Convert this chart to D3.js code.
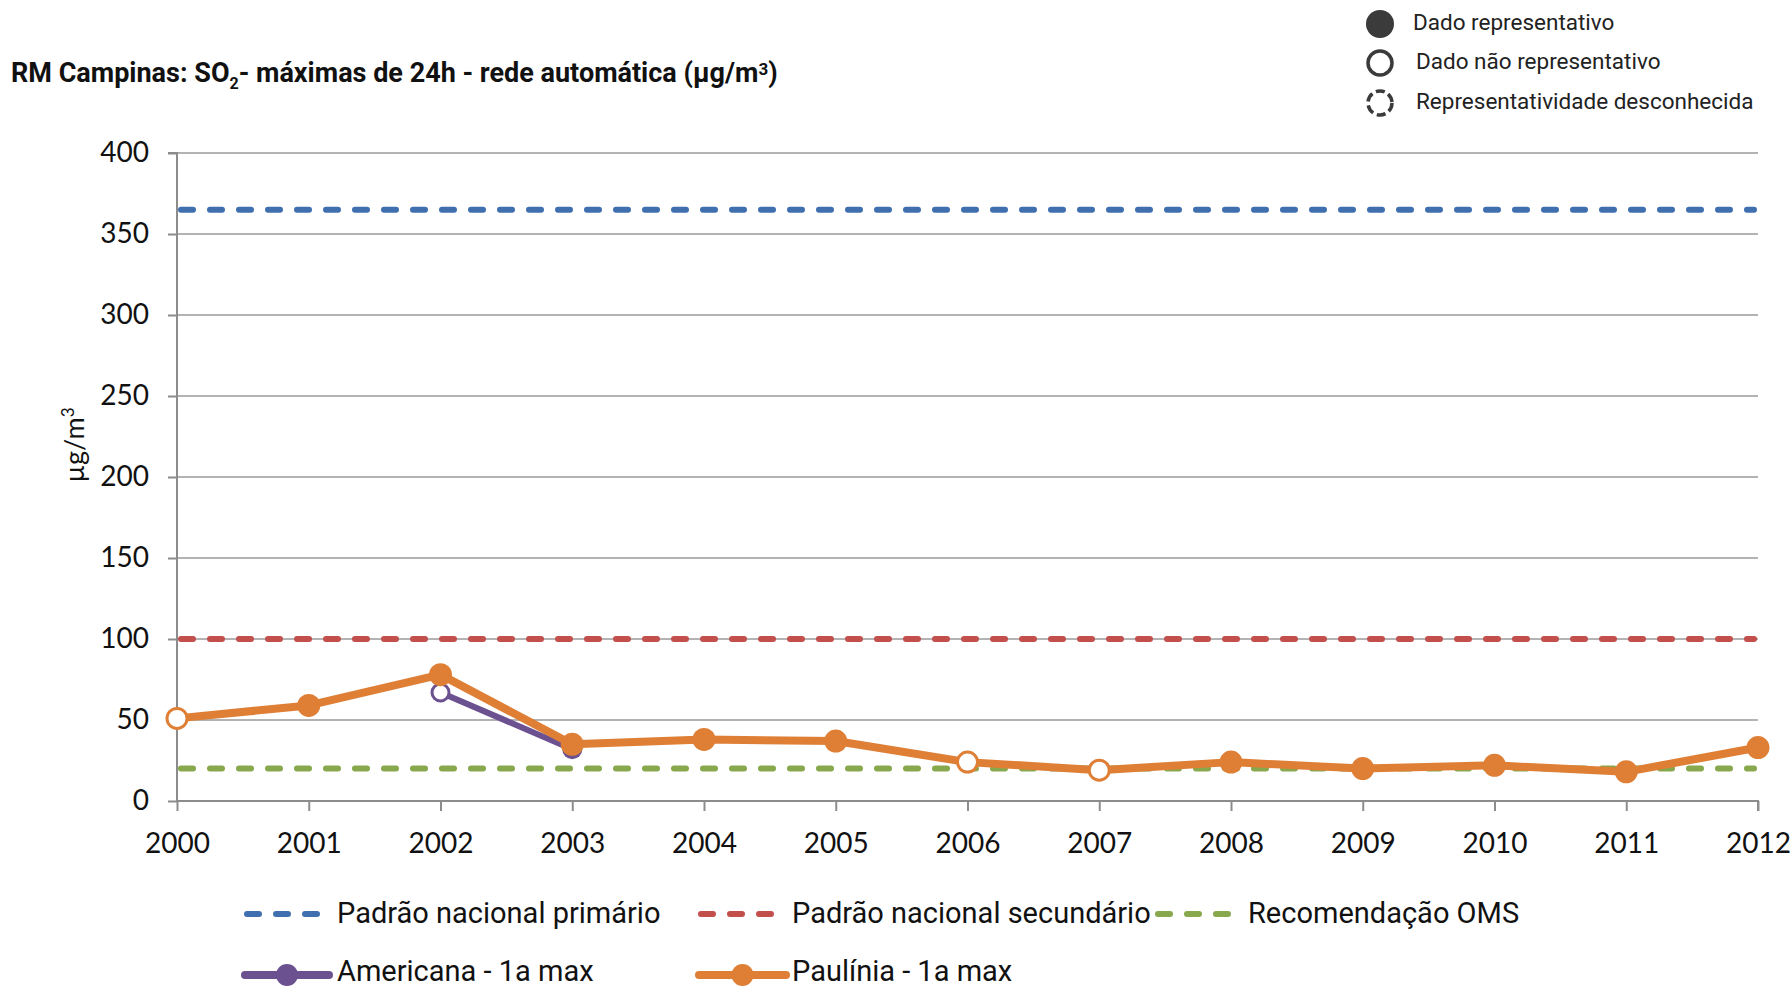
<!DOCTYPE html>
<html><head><meta charset="utf-8">
<script src="https://cdn.jsdelivr.net/npm/d3@7"></script>
<style>
html,body{margin:0;padding:0;background:#fff;}
svg{display:block;font-family:Lato,"Open Sans",sans-serif;}
</style></head>
<body>
<svg id="c" width="1791" height="989"></svg>
<script>
const years = [2000,2001,2002,2003,2004,2005,2006,2007,2008,2009,2010,2011,2012];
const paulinia = [51,59,78,35,38,37,24,19,24,20,22,18,33];
const pauliniaRep = [false,true,true,true,true,true,false,false,true,true,true,true,true];
const americana = [null,null,67,32,null,null,null,null,null,null,null,null,null];
const americanaRep = [null,null,false,true,null,null,null,null,null,null,null,null,null];
const refNames = ["Padrão nacional primário","Padrão nacional secundário","Recomendação OMS"];
const refValues = [365,100,20];
const yTicks = [0,50,100,150,200,250,300,350,400];

const colors = {blue:"#3F6FAF",red:"#C24F4C",green:"#87A84C",purple:"#6B5190",orange:"#DE7F35"};
const refColors = [colors.blue,colors.red,colors.green];

const svg = d3.select("#c");
const L=177, R=1758, T=153, B=801;
const x = d3.scaleLinear().domain([2000,2012]).range([L,R]);
const y = d3.scaleLinear().domain([0,400]).range([B,T]);

// gridlines
svg.append("g").selectAll("line").data(yTicks.filter(d=>d>0)).join("line")
  .attr("x1",L).attr("x2",R).attr("y1",d=>y(d)).attr("y2",d=>y(d))
  .attr("stroke","#9a9a9a").attr("stroke-width",1.6);

// y axis
const ya = svg.append("g").attr("transform",`translate(${L},0)`)
  .call(d3.axisLeft(y).tickValues(yTicks).tickSize(9).tickPadding(19));
ya.select(".domain").attr("stroke","#8c8c8c").attr("stroke-width",2).attr("d",`M-9,${T}H0V${B}`);
ya.selectAll(".tick line").attr("stroke","#8c8c8c").attr("stroke-width",2);
ya.selectAll("text").attr("font-size",28).attr("fill","#111").attr("font-family","Lato");

// x axis
const xa = svg.append("g").attr("transform",`translate(0,${B})`)
  .call(d3.axisBottom(x).tickValues(years).tickFormat(d3.format("d")).tickSize(10).tickPadding(22));
xa.select(".domain").attr("stroke","#8c8c8c").attr("stroke-width",2).attr("d",`M${L},0H${R}V10`);
xa.selectAll(".tick line").attr("stroke","#8c8c8c").attr("stroke-width",2);
xa.selectAll("text").attr("font-size",28).attr("fill","#111").attr("font-family","Lato");

// y label
svg.append("text").attr("transform",`translate(84,${445}) rotate(-90)`)
  .attr("text-anchor","middle").attr("font-size",27).attr("fill","#111")
  .html('µg/m<tspan dy="-10" font-size="17">3</tspan>');

// reference lines
svg.append("g").selectAll("line").data(refValues).join("line")
  .attr("x1",L+4).attr("x2",R-4).attr("y1",d=>y(d)).attr("y2",d=>y(d))
  .attr("stroke",(d,i)=>refColors[i]).attr("stroke-width",6)
  .attr("stroke-dasharray","12,17").attr("stroke-linecap","round");

// series
function drawSeries(vals, rep, color, width, r){
  const pts = years.map((yr,i)=>({yr,v:vals[i],rep:rep[i]})).filter(d=>d.v!=null);
  const line = d3.line().x(d=>x(d.yr)).y(d=>y(d.v));
  svg.append("path").datum(pts).attr("d",line).attr("fill","none")
    .attr("stroke",color).attr("stroke-width",width).attr("stroke-linejoin","round");
  svg.append("g").selectAll("circle").data(pts).join("circle")
    .attr("cx",d=>x(d.yr)).attr("cy",d=>y(d.v))
    .attr("r",d=>d.rep?r:r-1.5)
    .attr("fill",d=>d.rep?color:"#fff")
    .attr("stroke",color).attr("stroke-width",d=>d.rep?0:3);
}
drawSeries(americana, americanaRep, colors.purple, 6, 10);
drawSeries(paulinia, pauliniaRep, colors.orange, 8, 11.5);

// title
const title = svg.append("text").attr("x",11).attr("y",82).attr("font-size",27)
  .attr("font-weight","bold").attr("fill","#111").attr("font-family","Roboto, sans-serif");
title.append("tspan").text("RM Campinas: SO");
title.append("tspan").attr("dy",7).attr("font-size",16).text("2");
title.append("tspan").attr("dy",-7).text("- máximas de 24h - rede automática (µg/m");
title.append("tspan").attr("dy",-7).attr("font-size",17).text("3");
title.append("tspan").attr("dy",7).text(")");

// top-right legend
const repLabels = ["Dado representativo","Dado não representativo","Representatividade desconhecida"];
const tl = svg.append("g");
const tY=[24,63,103];
tl.append("circle").attr("cx",1380).attr("cy",tY[0]).attr("r",14).attr("fill","#3b3b3b");
tl.append("circle").attr("cx",1380).attr("cy",tY[1]).attr("r",12).attr("fill","none").attr("stroke","#3b3b3b").attr("stroke-width",3.5);
tl.append("circle").attr("cx",1380).attr("cy",tY[2]).attr("r",12).attr("fill","none").attr("stroke","#3b3b3b").attr("stroke-width",3.5).attr("stroke-dasharray","9,4");
tl.selectAll("text").data(repLabels).join("text")
  .attr("x",(d,i)=>i==0?1413:1416).attr("y",(d,i)=>tY[i]+6)
  .attr("font-size",22.5).attr("fill","#222").attr("font-family","Roboto, sans-serif")
  .text(d=>d);

// bottom legend
const lg = svg.append("g").attr("font-family","Roboto, sans-serif");
const refLeg = [[247,326,337],[701,778,792],[1158,1234,1248]];
refNames.forEach((n,i)=>{
  const [a,b,t]=refLeg[i];
  lg.append("line").attr("x1",a).attr("x2",b).attr("y1",914).attr("y2",914)
    .attr("stroke",refColors[i]).attr("stroke-width",6).attr("stroke-dasharray","12,17").attr("stroke-linecap","round");
  lg.append("text").attr("x",t).attr("y",923).attr("font-size",29).attr("fill","#111").text(n);
});
const serLeg = [["Americana - 1a max",colors.purple,245,329,337],["Paulínia - 1a max",colors.orange,699,786,792]];
serLeg.forEach(([n,c,a,b,t])=>{
  lg.append("line").attr("x1",a).attr("x2",b).attr("y1",975).attr("y2",975).attr("stroke",c).attr("stroke-width",8).attr("stroke-linecap","round");
  lg.append("circle").attr("cx",(a+b)/2).attr("cy",975).attr("r",11).attr("fill",c);
  lg.append("text").attr("x",t).attr("y",981).attr("font-size",29).attr("fill","#111").text(n);
});
</script>
</body></html>
